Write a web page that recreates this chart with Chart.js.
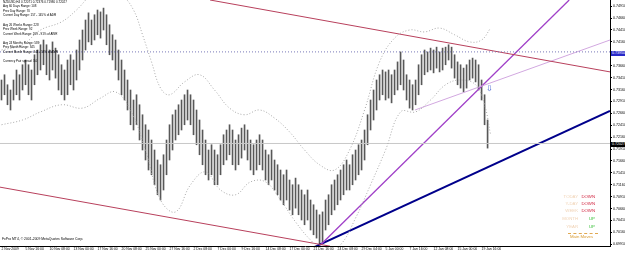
<!DOCTYPE html>
<html>
<head>
<meta charset="utf-8">
<script src="https://cdn.jsdelivr.net/npm/chart.js@4.4.0/dist/chart.umd.min.js"></script>
<style>
  body { margin: 0; background: #fff; }
  #wrap { position: relative; width: 625px; height: 253px; overflow: hidden; font-family: "Liberation Sans", Arial, sans-serif; }
  #priceChart { display: block; }
  .t { position: absolute; white-space: nowrap; line-height: 1; color: #000; }
  .info { font-size: 3px; left: 3px; }
  .mv { font-size: 4.3px; }
  .lab { color: #f0d2b4; text-align: right; width: 30px; left: 548px; }
  .val { text-align: right; width: 20px; left: 575px; }
  .down { color: #d0203c; }
  .up { color: #38c038; }
  .box { position: absolute; left: 611px; width: 14px; height: 5px; font-size: 3.6px; line-height: 5px; color: #fff; padding-left: 1px; box-sizing: border-box; }
</style>
</head>
<body>
<div id="wrap">
  <canvas id="priceChart" width="625" height="253"></canvas>

  <div class="t info" style="top:1.2px">NZDUSD,H4 0.72071 0.72376 0.71980 0.72027</div>
  <div class="t info" style="top:4.8px">Avg 60 Days Range: 108</div>
  <div class="t info" style="top:9.8px">Prev Day Range: 70</div>
  <div class="t info" style="top:14.2px">Current Day Range: 157 - 145% of ADR</div>
  <div class="t info" style="top:23.5px">Avg 26 Weeks Range: 228</div>
  <div class="t info" style="top:28.2px">Prev Week Range: 92</div>
  <div class="t info" style="top:32.5px">Current Week Range: 209 - 91% of AWR</div>
  <div class="t info" style="top:41.8px">Avg 24 Months Range: 589</div>
  <div class="t info" style="top:46.2px">Prev Month Range: 345</div>
  <div class="t info" style="top:50.5px">Current Month Range: 344 - 58% of AMR</div>
  <div class="t info" style="top:60.2px">Currency Pair spread: 3.0</div>

  <div class="t" style="left:2px; top:238px; font-size:3.4px;">FxPro MT4, © 2001-2009 MetaQuotes Software Corp.</div>

  <div class="t" style="left:486px; top:85px; font-size:8px; color:#3a5ad0; font-family:'DejaVu Sans';">⇩</div>

  <div class="t mv lab" style="top:194.8px">TODAY</div>
  <div class="t mv val down" style="top:194.8px">DOWN</div>
  <div class="t mv lab" style="top:201.6px">Y-DAY</div>
  <div class="t mv val down" style="top:201.6px">DOWN</div>
  <div class="t mv lab" style="top:208.8px">WEEK</div>
  <div class="t mv val down" style="top:208.8px">DOWN</div>
  <div class="t mv lab" style="top:216.8px">MONTH</div>
  <div class="t mv val up" style="top:216.8px">UP</div>
  <div class="t mv lab" style="top:224.6px">YEAR</div>
  <div class="t mv val up" style="top:224.6px">UP</div>
  <div style="position:absolute; left:568px; top:232.5px; width:30px; border-top:1px dashed #e0a850;"></div>
  <div class="t mv" style="left:570px; top:234.6px; color:#d89a30;">Main Moves</div>

  <div class="box" style="top:50.5px; background:#2828c8;">0.73950</div>
  <div class="box" style="top:141.5px; background:#000;">0.72027</div>
</div>

<script>
// time axis labels (one every 16 H4 bars)
const timeLabels = ['2 Nov 2009', '5 Nov 16:00', '10 Nov 08:00', '13 Nov 00:00', '17 Nov 16:00',
  '20 Nov 08:00', '25 Nov 00:00', '27 Nov 16:00', '2 Dec 08:00', '7 Dec 00:00', '9 Dec 16:00',
  '14 Dec 08:00', '17 Dec 00:00', '21 Dec 16:00', '24 Dec 08:00', '29 Dec 04:00', '5 Jan 00:00',
  '7 Jan 16:00', '12 Jan 08:00', '15 Jan 00:00', '19 Jan 16:00'];
const timeTickAt = [0, 8, 16, 24, 32, 40, 48, 56, 64, 72, 80, 88, 96, 104, 112, 120, 128, 136, 144, 152, 160];

// price scale labels
const priceTicks = [0.7491, 0.7466, 0.7441, 0.7416, 0.7391, 0.7366, 0.7341, 0.7316, 0.7291, 0.7266,
  0.7241, 0.7216, 0.7191, 0.7166, 0.7141, 0.7116, 0.7091, 0.7066, 0.7041, 0.7016, 0.6991];

// bar highs / lows (every second H4 bar)
const barHigh = [
  0.7336, 0.7347, 0.7326, 0.7315, 0.7336, 0.7357, 0.7347, 0.7368, 0.7378, 0.7368,
  0.7357, 0.7389, 0.7399, 0.7410, 0.7420, 0.7410, 0.7399, 0.7416, 0.7403, 0.7389,
  0.7368, 0.7357, 0.7378, 0.7389, 0.7378, 0.7399, 0.7420, 0.7441, 0.7462, 0.7477,
  0.7462, 0.7473, 0.7483, 0.7479, 0.7487, 0.7473, 0.7452, 0.7431, 0.7420, 0.7399,
  0.7378, 0.7357, 0.7336, 0.7315, 0.7294, 0.7305, 0.7284, 0.7263, 0.7242, 0.7231,
  0.7210, 0.7189, 0.7168, 0.7158, 0.7179, 0.7210, 0.7242, 0.7263, 0.7273, 0.7284,
  0.7294, 0.7305, 0.7315, 0.7305, 0.7294, 0.7273, 0.7252, 0.7231, 0.7210, 0.7189,
  0.7200, 0.7189, 0.7179, 0.7200, 0.7221, 0.7231, 0.7242, 0.7231, 0.7210, 0.7221,
  0.7235, 0.7242, 0.7231, 0.7210, 0.7200, 0.7210, 0.7221, 0.7210, 0.7189, 0.7179,
  0.7189, 0.7168, 0.7158, 0.7147, 0.7137, 0.7147, 0.7126, 0.7116, 0.7130, 0.7116,
  0.7105, 0.7095, 0.7105, 0.7084, 0.7074, 0.7063, 0.7053, 0.7059, 0.7084, 0.7095,
  0.7116, 0.7126, 0.7137, 0.7147, 0.7158, 0.7168, 0.7158, 0.7179, 0.7189, 0.7200,
  0.7210, 0.7231, 0.7263, 0.7294, 0.7315, 0.7336, 0.7347, 0.7357, 0.7353, 0.7357,
  0.7347, 0.7357, 0.7374, 0.7395, 0.7378, 0.7347, 0.7336, 0.7326, 0.7336, 0.7368,
  0.7389, 0.7399, 0.7395, 0.7403, 0.7399, 0.7405, 0.7395, 0.7403, 0.7405, 0.7410,
  0.7405, 0.7389, 0.7374, 0.7368, 0.7361, 0.7368, 0.7378, 0.7382, 0.7378, 0.7368,
  0.7336, 0.7305, 0.7252];
const barLow = [
  0.7294, 0.7305, 0.7284, 0.7273, 0.7294, 0.7305, 0.7294, 0.7315, 0.7326, 0.7305,
  0.7294, 0.7326, 0.7347, 0.7357, 0.7368, 0.7347, 0.7336, 0.7357, 0.7340, 0.7315,
  0.7305, 0.7294, 0.7305, 0.7326, 0.7315, 0.7336, 0.7357, 0.7378, 0.7399, 0.7416,
  0.7410, 0.7420, 0.7431, 0.7424, 0.7441, 0.7410, 0.7389, 0.7378, 0.7357, 0.7336,
  0.7305, 0.7294, 0.7273, 0.7242, 0.7231, 0.7242, 0.7210, 0.7189, 0.7168, 0.7147,
  0.7137, 0.7116, 0.7095, 0.7084, 0.7105, 0.7137, 0.7168, 0.7189, 0.7210, 0.7221,
  0.7231, 0.7242, 0.7252, 0.7242, 0.7221, 0.7200, 0.7179, 0.7158, 0.7137, 0.7126,
  0.7137, 0.7116, 0.7116, 0.7137, 0.7158, 0.7168, 0.7179, 0.7158, 0.7147, 0.7158,
  0.7172, 0.7189, 0.7168, 0.7147, 0.7137, 0.7147, 0.7158, 0.7147, 0.7126, 0.7116,
  0.7126, 0.7105, 0.7095, 0.7084, 0.7074, 0.7084, 0.7063, 0.7053, 0.7067, 0.7053,
  0.7042, 0.7032, 0.7042, 0.7021, 0.7011, 0.7004, 0.6992, 0.6996, 0.7021, 0.7032,
  0.7053, 0.7063, 0.7074, 0.7084, 0.7095, 0.7105, 0.7105, 0.7116, 0.7126, 0.7137,
  0.7147, 0.7168, 0.7200, 0.7231, 0.7252, 0.7273, 0.7294, 0.7305, 0.7294, 0.7298,
  0.7288, 0.7305, 0.7315, 0.7326, 0.7315, 0.7294, 0.7277, 0.7273, 0.7284, 0.7305,
  0.7326, 0.7347, 0.7353, 0.7357, 0.7351, 0.7361, 0.7353, 0.7357, 0.7368, 0.7378,
  0.7361, 0.7340, 0.7326, 0.7319, 0.7311, 0.7319, 0.7336, 0.7340, 0.7332, 0.7315,
  0.7294, 0.7242, 0.7193];

// dotted envelope bands
const upperBandAt = [0, 7, 13, 20, 25, 30, 35, 40, 44, 47, 50, 53, 56, 61, 66, 71, 76, 81, 86, 91,
  96, 101, 106, 111, 116, 121, 126, 131, 136, 141, 146, 151, 156, 160, 163];
const upperBand = [0.7399, 0.7410, 0.7441, 0.7458, 0.7483, 0.7515, 0.7529, 0.7515, 0.7483, 0.7431,
  0.7374, 0.7319, 0.7305, 0.7332, 0.7347, 0.7315, 0.7277, 0.7263, 0.7273, 0.7256,
  0.7227, 0.7189, 0.7158, 0.7147, 0.7189, 0.7273, 0.7374, 0.7424, 0.7441, 0.7437,
  0.7445, 0.7431, 0.7416, 0.7420, 0.7445];
const lowerBandAt = [0, 7, 13, 20, 27, 33, 38, 43, 48, 53, 58, 63, 68, 73, 78, 83, 88, 93, 98, 103,
  108, 113, 118, 123, 128, 133, 138, 143, 148, 153, 158, 161, 163];
const lowerBand = [0.7242, 0.7252, 0.7269, 0.7284, 0.7277, 0.7298, 0.7311, 0.7273, 0.7189, 0.7084,
  0.7059, 0.7116, 0.7143, 0.7105, 0.7095, 0.7122, 0.7122, 0.7084, 0.7038, 0.7000,
  0.6975, 0.6990, 0.7046, 0.7116, 0.7189, 0.7269, 0.7269, 0.7294, 0.7326, 0.7336,
  0.7326, 0.7284, 0.7221];

// trend lines: [bar position, price] end points
const upperChannel = [[69.5, 0.7504], [202.8, 0.7353]];
const lowerChannel = [[-0.5, 0.7111], [109.5, 0.6987]];
const steepLine = [[106.2, 0.6989], [189.2, 0.7504]];
const supportLine = [[104.2, 0.6985], [202.8, 0.7271]];
const breakLine = [[137.8, 0.7273], [202.8, 0.7420]];
const currentPrice = 0.72027;
const monthLevel = 0.7395;

const xMin = -0.5;
const xMax = 202.8;

function pts(arr) {
  return arr.map(p => ({ x: p[0], y: p[1] }));
}
function lineSet(points, color, width, extra) {
  return Object.assign({
    type: 'line', data: points, borderColor: color, borderWidth: width,
    pointRadius: 0, fill: false, tension: 0, order: 1
  }, extra || {});
}

const datasets = [
  {
    type: 'bar',
    data: barHigh.map((h, i) => ({ x: i, y: [barLow[i], h] })),
    backgroundColor: '#585858',
    borderWidth: 0,
    barThickness: 1,
    order: 10
  },
  lineSet(upperBandAt.map((x, i) => ({ x: x, y: upperBand[i] })), '#a8a8a8', 1, { borderDash: [1, 2], tension: 0.4 }),
  lineSet(lowerBandAt.map((x, i) => ({ x: x, y: lowerBand[i] })), '#a8a8a8', 1, { borderDash: [1, 2], tension: 0.4 }),
  lineSet([{ x: xMin, y: currentPrice }, { x: xMax, y: currentPrice }], '#c8c8c8', 1),
  lineSet([{ x: xMin, y: monthLevel }, { x: xMax, y: monthLevel }], '#7878b8', 1, { borderDash: [1, 2] }),
  lineSet(pts(upperChannel), '#b8405c', 1),
  lineSet(pts(lowerChannel), '#b8405c', 1),
  lineSet(pts(breakLine), '#d2a8e0', 1),
  lineSet(pts(steepLine), '#a040c8', 1.3),
  lineSet(pts(supportLine), '#00008b', 2)
];

const ctx = document.getElementById('priceChart').getContext('2d');
const priceChart = new Chart(ctx, {
  type: 'bar',
  data: { datasets: datasets },
  options: {
    responsive: false,
    animation: false,
    layout: { padding: 0, autoPadding: false },
    plugins: { legend: { display: false }, tooltip: { enabled: false } },
    scales: {
      x: {
        type: 'linear',
        min: xMin,
        max: xMax,
        offset: false,
        grid: { drawOnChartArea: false, tickLength: 1, color: '#000', offset: false },
        border: { display: true, color: '#000' },
        afterBuildTicks: s => { s.ticks = timeTickAt.map(v => ({ value: v })); },
        afterFit: s => { s.height = 7; s.paddingLeft = 0; s.paddingRight = 0; },
        ticks: {
          autoSkip: false, maxRotation: 0, minRotation: 0, align: 'start', padding: 0.5,
          color: '#000', font: { family: 'Liberation Sans', size: 3.4 },
          callback: (v, i) => timeLabels[i]
        }
      },
      y: {
        position: 'right',
        min: 0.69874,
        max: 0.7504,
        grid: { drawOnChartArea: false, tickLength: 2, color: '#000' },
        border: { display: true, color: '#000' },
        afterBuildTicks: s => { s.ticks = priceTicks.map(v => ({ value: v })); },
        afterFit: s => { s.width = 15; s.paddingTop = 0; s.paddingBottom = 0; },
        ticks: {
          padding: 1, color: '#000', font: { family: 'Liberation Sans', size: 3.6 },
          callback: v => Number(v).toFixed(5)
        }
      }
    }
  }
});
</script>
</body>
</html>
